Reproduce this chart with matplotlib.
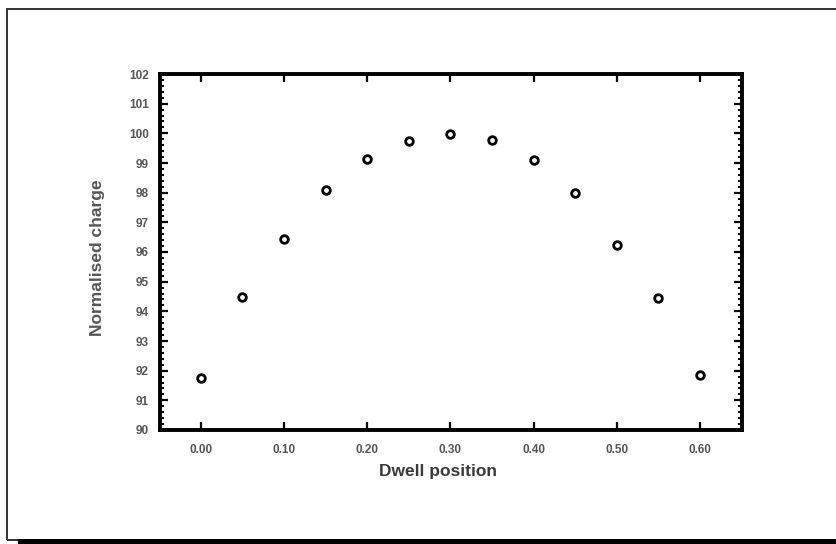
import matplotlib
matplotlib.use("Agg")
import matplotlib.pyplot as plt
from matplotlib.patches import Rectangle
from matplotlib.ticker import MultipleLocator

plt.rcParams['font.family'] = ['Liberation Sans', 'DejaVu Sans']

# Dwell positions and normalised charge readings
dwell_position = [0.00, 0.05, 0.10, 0.15, 0.20, 0.25, 0.30,
                  0.35, 0.40, 0.45, 0.50, 0.55, 0.60]
normalised_charge = [91.75, 94.5, 96.45, 98.1, 99.15, 99.75, 99.97,
                     99.78, 99.1, 98.0, 96.25, 94.45, 91.85]

x_ticks = [0.00, 0.10, 0.20, 0.30, 0.40, 0.50, 0.60]
x_tick_labels = ["0.00", "0.10", "0.20", "0.30", "0.40", "0.50", "0.60"]
y_ticks = list(range(90, 103))

W, H = 837, 544
fig = plt.figure(figsize=(W / 100, H / 100), dpi=100)

# page frame: thin dark outline with a heavy bottom edge
fig.patches.append(Rectangle((7 / W, 1 - 540 / H), (W + 10) / W, 531 / H,
                             transform=fig.transFigure, fill=False,
                             edgecolor='#333333', linewidth=1.4))
fig.patches.append(Rectangle((18 / W, 0), (W - 18) / W, 5 / H,
                             transform=fig.transFigure, facecolor='black',
                             edgecolor='none'))

ax = fig.add_axes([160 / W, 1 - 430 / H, 582 / W, 356 / H])

ax.plot(dwell_position, normalised_charge, linestyle='none', marker='o',
        markersize=5.5, markerfacecolor='white', markeredgecolor='black',
        markeredgewidth=2.0)

ax.set_xlim(-0.049, 0.6505)
ax.set_ylim(90, 102)
ax.set_xticks(x_ticks)
ax.set_xticklabels(x_tick_labels)
ax.set_yticks(y_ticks)
ax.yaxis.set_minor_locator(MultipleLocator(0.2))

for s in ax.spines.values():
    s.set_linewidth(2.8)

ax.tick_params(axis='both', which='major', direction='in', length=6,
               width=1.6, labelsize=8.5, labelcolor='#555555',
               top=True, right=True)
ax.tick_params(axis='y', which='minor', direction='in', length=3,
               width=1.4, right=True, left=True)
ax.tick_params(axis='x', which='major', pad=10)
ax.tick_params(axis='y', which='major', pad=8)
for lbl in ax.get_xticklabels() + ax.get_yticklabels():
    lbl.set_fontweight('bold')

ax.set_xlabel("Dwell position", fontsize=12.5, fontweight='bold',
              color='#3a3a3a')
ax.set_ylabel("Normalised charge", fontsize=12.5, fontweight='bold',
              color='#555555')
ax.xaxis.set_label_coords(0.478, -0.095)
ax.yaxis.set_label_coords(-0.094, 0.483)

fig.savefig("out.png", dpi=100)
